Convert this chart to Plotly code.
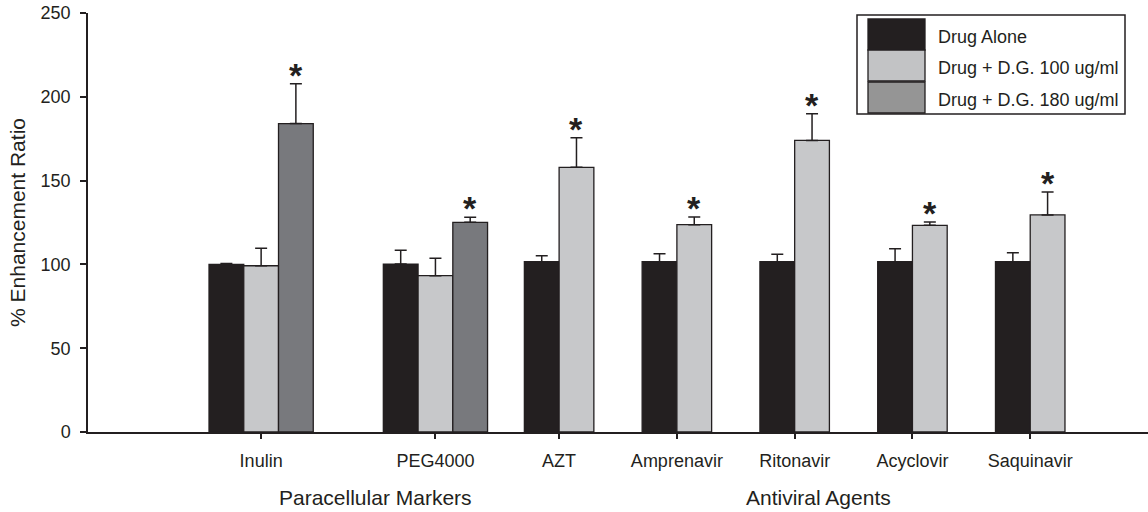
import plotly.graph_objects as go

# ---------------- data ----------------
categories = ["Inulin", "PEG4000", "AZT", "Amprenavir", "Ritonavir", "Acyclovir", "Saquinavir"]
cat_pos = [1.47, 2.95, 4, 5, 6, 7, 8]

series_names = ["Drug Alone", "Drug + D.G. 100 ug/ml", "Drug + D.G. 180 ug/ml"]
drug_alone = [100.0, 100.2, 101.6, 101.6, 101.6, 101.6, 101.6]
drug_alone_err = [0.6, 8.2, 3.6, 4.8, 4.4, 7.8, 5.4]
dg100 = [99.2, 93.3, 157.9, 123.7, 174.0, 123.3, 129.5]
dg100_err = [10.4, 10.3, 17.7, 4.6, 15.9, 2.0, 13.7]
dg180 = [184.0, 125.1, None, None, None, None, None]
dg180_err = [23.8, 3.0, None, None, None, None, None]

# which series is significant (*) per category: index into series list
sig_series = [2, 2, 1, 1, 1, 1, 1]

group_labels = ["Paracellular Markers", "Antiviral Agents"]
group_label_pos = [2.44, 6.2]

y_ticks = [0, 50, 100, 150, 200, 250]

# ---------------- style ----------------
INK = "#231f20"
bar_colors = ["#231f20", "#c7c8ca", "#78797d"]
legend_swatch_colors = ["#231f20", "#c2c3c5", "#959595"]
FONT = "Liberation Sans, Arial, Helvetica, sans-serif"
W, H = 1148, 512
ML, MR, MT, MB = 88, 0, 13, 80
PW, PH = W - ML - MR, H - MT - MB
BW = 0.295

def px_x(px):
    return (px - ML) / PW

def px_y(py):
    return (H - MB - py) / PH

values = [drug_alone, dg100, dg180]
errors = [drug_alone_err, dg100_err, dg180_err]

fig = go.Figure()

for s, (vals, errs) in enumerate(zip(values, errors)):
    xs, ys, es = [], [], []
    for i, p in enumerate(cat_pos):
        present = [k for k in range(3) if values[k][i] is not None]
        if vals[i] is None:
            continue
        n = len(present)
        idx = present.index(s)
        offset = (idx - (n - 1) / 2) * BW
        xs.append(p + offset)
        ys.append(vals[i])
        es.append(errs[i])
    fig.add_trace(go.Bar(
        x=xs, y=ys, width=BW, name=series_names[s], showlegend=False,
        marker=dict(color=bar_colors[s], line=dict(color=INK, width=1.3)),
        error_y=dict(type="data", array=es, arrayminus=[0] * len(es), symmetric=False,
                     color=INK, thickness=1.5, width=6),
    ))

annotations = []
# significance asterisks
for i, p in enumerate(cat_pos):
    s = sig_series[i]
    present = [k for k in range(3) if values[k][i] is not None]
    n = len(present)
    idx = present.index(s)
    offset = (idx - (n - 1) / 2) * BW
    top = values[s][i] + errors[s][i]
    annotations.append(dict(
        x=p + offset, y=top, xref="x", yref="y", text="<b>*</b>", showarrow=False,
        yanchor="bottom", xanchor="center", yshift=-12,
        font=dict(family=FONT, size=34, color=INK)))

# group labels
for lab, gx in zip(group_labels, group_label_pos):
    annotations.append(dict(
        x=gx, y=px_y(497), xref="x", yref="paper", text=lab, showarrow=False,
        xanchor="center", yanchor="middle",
        font=dict(family=FONT, size=21, color=INK)))

# custom legend (large swatches like the original)
shapes = [dict(type="rect", xref="paper", yref="paper",
               x0=px_x(857), x1=px_x(1125), y0=px_y(114), y1=px_y(15),
               line=dict(color=INK, width=1.5), fillcolor="white", layer="above")]
row_top = [19, 50, 82]
row_h = 31
for k, name in enumerate(series_names):
    y0 = row_top[k]
    shapes.append(dict(type="rect", xref="paper", yref="paper",
                       x0=px_x(868), x1=px_x(925), y0=px_y(y0 + row_h), y1=px_y(y0),
                       line=dict(color=INK, width=1.3), fillcolor=legend_swatch_colors[k],
                       layer="above"))
    annotations.append(dict(
        x=px_x(936), y=px_y(y0 + row_h / 2 + 2), xref="paper", yref="paper", text=name,
        showarrow=False, xanchor="left", yanchor="middle",
        font=dict(family=FONT, size=18, color=INK)))

fig.update_layout(
    width=W, height=H,
    margin=dict(l=ML, r=MR, t=MT, b=MB, pad=0),
    paper_bgcolor="white", plot_bgcolor="white",
    barmode="overlay",
    font=dict(family=FONT, size=18, color=INK),
    xaxis=dict(range=[0, 9], tickvals=cat_pos, ticktext=categories,
               showline=True, linecolor=INK, linewidth=2,
               ticks="outside", ticklen=5, tickwidth=1.5, tickcolor=INK,
               ticklabelstandoff=6, showgrid=False, zeroline=False,
               tickfont=dict(family=FONT, size=18, color=INK)),
    yaxis=dict(range=[0, 250], tickvals=y_ticks,
               showline=True, linecolor=INK, linewidth=1.5,
               ticks="outside", ticklen=6, tickwidth=1.5, tickcolor=INK,
               ticklabelstandoff=6, showgrid=False, zeroline=False,
               tickfont=dict(family=FONT, size=18, color=INK),
               title=dict(text="% Enhancement Ratio", standoff=9,
                          font=dict(family=FONT, size=21, color=INK))),
    annotations=annotations,
    shapes=shapes,
)

fig.write_html("out.html")
